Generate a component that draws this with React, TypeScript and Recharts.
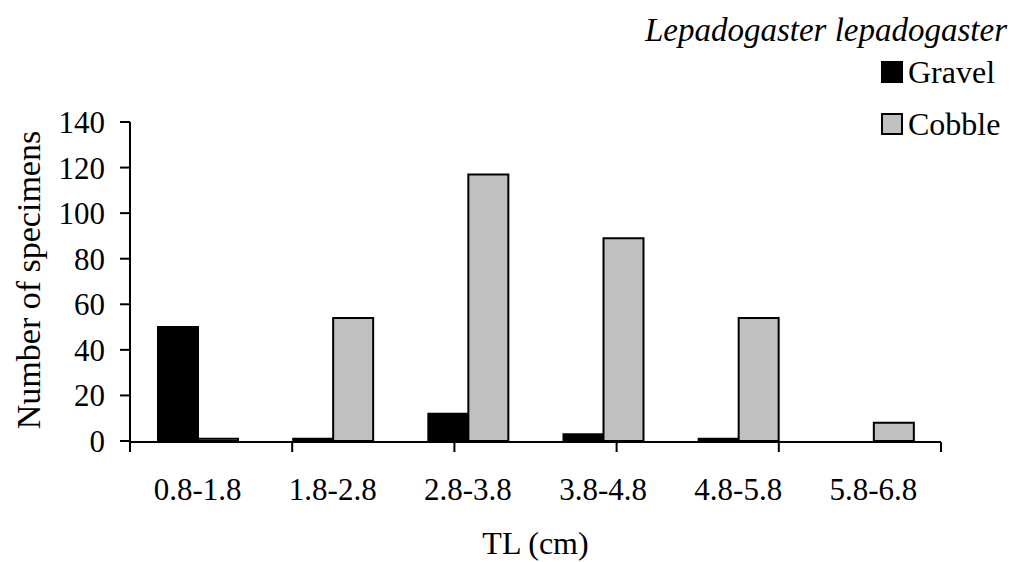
import React from "react";
import { BarChart, Bar, XAxis, YAxis, Legend, Label } from "recharts";

const categories = ["0.8-1.8", "1.8-2.8", "2.8-3.8", "3.8-4.8", "4.8-5.8", "5.8-6.8"];
const gravel = [50, 1, 12, 3, 1, 0];
const cobble = [1, 54, 117, 89, 54, 8];
const yTicks = [0, 20, 40, 60, 80, 100, 120, 140];
const edgeTicks = [0, 1, 2, 3, 4, 5, 6];
const seriesOrder = ["Gravel", "Cobble"];

const data = categories.map((c, i) => ({ range: c, Gravel: gravel[i], Cobble: cobble[i] }));

const FONT = '"Liberation Serif", "Times New Roman", serif';

const LegendContent = (props: any) => {
  const payload = [...(props.payload || [])].sort(
    (a: any, b: any) => seriesOrder.indexOf(a.value) - seriesOrder.indexOf(b.value)
  );
  return (
    <div style={{ position: "relative", width: 1014, height: 140, fontFamily: FONT, fontSize: 32, color: "#000" }}>
      <div style={{ position: "absolute", right: 7, top: 11, fontSize: 33, fontStyle: "italic", lineHeight: "38px", whiteSpace: "nowrap" }}>
        Lepadogaster lepadogaster
      </div>
      {payload.map((p: any, i: number) => (
        <div
          key={p.value}
          style={{ position: "absolute", left: 881, top: 53 + i * 52, display: "flex", alignItems: "center", lineHeight: "38px", whiteSpace: "nowrap" }}
        >
          <span style={{ display: "inline-block", width: 18, height: 18, border: "2px solid #000", background: p.payload?.fill || p.color }} />
          <span style={{ marginLeft: 5 }}>{p.value}</span>
        </div>
      ))}
    </div>
  );
};

export default function App() {
  return (
    <div style={{ position: "absolute", left: 0, top: 0, width: 1014, height: 562, background: "#fff" }}>
      <BarChart
        width={1014}
        height={562}
        data={data}
        margin={{ top: 122, right: 73, bottom: 119, left: 0 }}
        barGap={0}
        barSize={40}
        style={{ fontFamily: FONT }}
      >
        <XAxis
          xAxisId="edges"
          type="number"
          domain={[0, 6]}
          ticks={edgeTicks}
          height={1}
          tick={() => <g />}
          tickSize={10}
          axisLine={{ stroke: "#000", strokeWidth: 2 }}
          tickLine={{ stroke: "#000", strokeWidth: 2 }}
        />
        <XAxis
          xAxisId="cat"
          dataKey="range"
          height={1}
          axisLine={false}
          tickLine={false}
          tickSize={10}
          tickMargin={27}
          interval={0}
          tick={{ fill: "#000", fontSize: 31, fontFamily: FONT }}
        >
          <Label
            content={() => (
              <text x={535.5} y={554} textAnchor="middle" fill="#000" fontSize={32} fontFamily={FONT}>
                TL (cm)
              </text>
            )}
          />
        </XAxis>
        <YAxis
          width={130}
          domain={[0, 140]}
          ticks={yTicks}
          interval={0}
          tickSize={10}
          tickMargin={15}
          axisLine={{ stroke: "#000", strokeWidth: 2 }}
          tickLine={{ stroke: "#000", strokeWidth: 2 }}
          tick={{ fill: "#000", fontSize: 31, fontFamily: FONT }}
        >
          <Label
            content={() => (
              <text
                x={28}
                y={280}
                transform="rotate(-90, 28, 280)"
                textAnchor="middle"
                dominantBaseline="central"
                fill="#000"
                fontSize={34}
                fontFamily={FONT}
              >
                Number of specimens
              </text>
            )}
          />
        </YAxis>
        <Legend
          layout="horizontal"
          verticalAlign="middle"
          align="center"
          content={LegendContent}
          wrapperStyle={{ position: "absolute", left: 0, top: 0, width: 1014, height: 140 }}
        />
        <Bar xAxisId="cat" dataKey="Gravel" fill="#000000" stroke="#000" strokeWidth={2} isAnimationActive={false} />
        <Bar xAxisId="cat" dataKey="Cobble" fill="#c0c0c0" stroke="#000" strokeWidth={2} isAnimationActive={false} />
      </BarChart>
    </div>
  );
}
